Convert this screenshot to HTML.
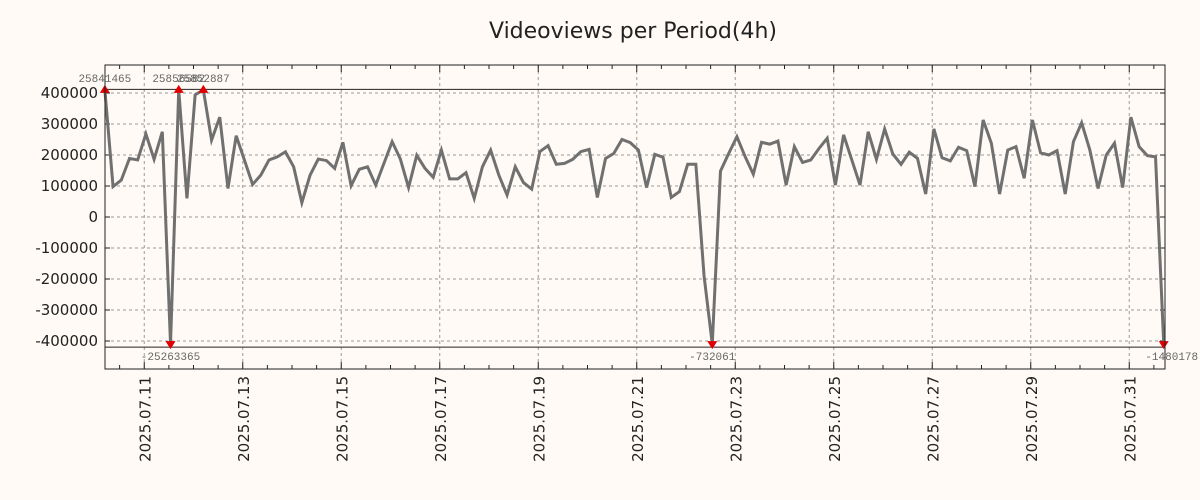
<!DOCTYPE html>
<html><head><meta charset="utf-8"><style>
body{margin:0;background:#fffaf5;}
svg{display:block;font-family:"DejaVu Sans","Liberation Sans",sans-serif;}
</style></head><body>
<svg id="chart" width="1200" height="500">
<rect width="1200" height="500" fill="#fffaf5"/>
<text x="633" y="38" font-size="22" text-anchor="middle" fill="#222">Videoviews per Period(4h)</text>
</svg>
<script>
const values=[25841465,98000,119000,189000,184000,268000,186000,275000,-25263365,25856000,60000,394000,25852887,248000,322000,92000,262000,184000,105000,135000,184000,194000,210000,162000,46000,135000,187000,182000,157000,241000,101000,154000,162000,103000,173000,243000,187000,95000,199000,157000,128000,216000,123000,123000,143000,60000,162000,216000,135000,71000,162000,111000,90000,211000,230000,170000,173000,186000,211000,218000,63000,189000,205000,250000,240000,216000,95000,202000,193000,63000,82000,170000,170000,-190000,-732061,148000,205000,259000,195000,138000,241000,235000,245000,103000,227000,176000,184000,221000,254000,103000,265000,184000,103000,275000,186000,284000,203000,170000,209000,189000,74000,284000,191000,181000,225000,214000,98000,313000,238000,74000,216000,227000,125000,313000,207000,200000,214000,74000,243000,304000,216000,92000,200000,238000,95000,322000,227000,198000,194000,-1480178];
const yTicks=[400000,300000,200000,100000,0,-100000,-200000,-300000,-400000];
const xLabels=["2025.07.11","2025.07.13","2025.07.15","2025.07.17","2025.07.19","2025.07.21","2025.07.23","2025.07.25","2025.07.27","2025.07.29","2025.07.31"];
const xLabelDays=[1,3,5,7,9,11,13,15,17,19,21];
const annotations=[{i:0,t:"25841465",up:true},{i:9,t:"25856582",up:true},{i:12,t:"25852887",up:true},{i:8,t:"-25263365",up:false},{i:74,t:"-732061",up:false},{i:129,t:"-1480178",up:false}];
const startHour=4.8, stepHour=4, clipV=410000;
const L=105,R=1165,T=65,B=369;
const X=h=>95+h*49.25/24;
const Y=v=>217-v*31/100000;
const svg=document.getElementById('chart');
const NS='http://www.w3.org/2000/svg';
function mk(tag,attrs){const e=document.createElementNS(NS,tag);for(const k in attrs)e.setAttribute(k,attrs[k]);svg.appendChild(e);return e;}
// grid
yTicks.forEach(v=>{
 const g=mk('line',{x1:L,x2:R,y1:Y(v),y2:Y(v),stroke:'#999','stroke-dasharray':'3,3','stroke-width':1});
 
 
 const t=mk('text',{x:98,y:Y(v)+5,'font-size':15,'text-anchor':'end',fill:'#222'});
 t.textContent=v;
 
 
 [[L,L+5],[R-5,R]].forEach(p=>{const k=mk('line',{x1:p[0],x2:p[1],y1:Y(v),y2:Y(v),stroke:'#222'});
 
 });
});
xLabelDays.forEach((d,j)=>{
 const x=X(d*24);
 const g=mk('line',{x1:x,x2:x,y1:T,y2:B,stroke:'#999','stroke-dasharray':'3,3'});
 
 
 const t=mk('text',{x:0,y:0,'font-size':15,'text-anchor':'end',fill:'#222',transform:`translate(${x+6},${376}) rotate(-90)`});
 t.textContent=xLabels[j];
 
 
});
for(let h=12;h<=22*24;h+=12){const x=X(h);if(x<L||x>R)continue;
 const big=(h%48===24);
 [[B,B-(big?7:4)],[T,T+(big?7:4)]].forEach(p=>{const k=mk('line',{x1:x,x2:x,y1:p[0],y2:p[1],stroke:'#222'});
 
 });}
// clip lines
[clipV,-clipV].forEach(v=>{const c=mk('line',{x1:L,x2:R,y1:Y(v)+ (v>0?-0.5:3),y2:Y(v)+(v>0?-0.5:3),stroke:'#222','stroke-width':1});
 
 });
// series
const pts=values.map((v,i)=>[X(startHour+i*stepHour),Y(Math.max(-clipV,Math.min(clipV,v)))]);
const line=mk('polyline',{points:pts.map(p=>p.join(',')).join(' '),fill:'none',stroke:'#707070','stroke-width':3,'stroke-linejoin':'miter'});


annotations.forEach(a=>{
 const [x,y]=pts[a.i];
 const m=mk('polygon',{points:a.up?`${x-5},${y+3} ${x+5},${y+3} ${x},${y-5}`:`${x-5},${y-3} ${x+5},${y-3} ${x},${y+5}`,fill:'#e00000'});
 
 
 const t=mk('text',{x:a.up?x:x+(a.i===129?8:0),y:a.up?y-8:y+16,'font-size':11,'text-anchor':'middle',fill:'#666','font-family':'"Liberation Mono",monospace'});
 t.textContent=a.t;
 
 
});
const fr=mk('rect',{x:L,y:T,width:R-L,height:B-T,fill:'none',stroke:'#222','stroke-width':1});


</script>
</body></html>
